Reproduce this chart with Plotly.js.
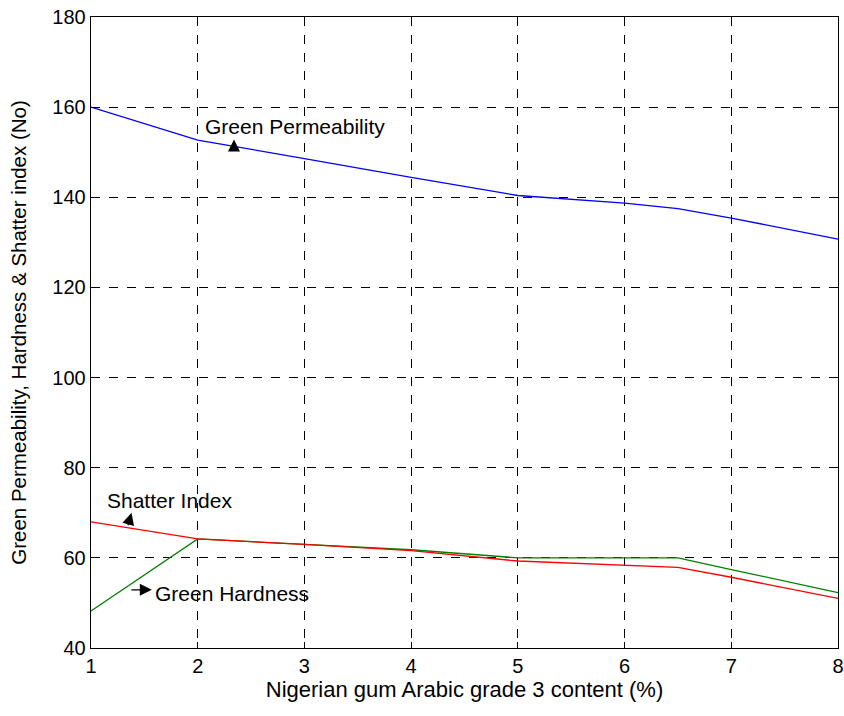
<!DOCTYPE html>
<html>
<head>
<meta charset="utf-8">
<script src="https://cdn.plot.ly/plotly-3.0.1.min.js"></script>
<style>body{margin:0;background:#fff}#chart{width:844px;height:716px}</style>
</head>
<body>
<div id="chart"></div>
<script>
// Data
const xContent = [1, 2, 3, 4, 5, 6, 6.5, 7, 8];
const greenPermeability = [160, 152.7, 148.6, 144.4, 140.4, 138.7, 137.5, 135.4, 130.7];
const shatterIndex = [68, 64.2, 63.0, 61.6, 59.3, 58.4, 57.9, 55.7, 51.0];
const greenHardness = [48.2, 64.2, 63.0, 61.8, 60.0, 60.0, 60.0, 57.4, 52.3];
const xTicks = [1, 2, 3, 4, 5, 6, 7, 8];
const yTicks = [40, 60, 80, 100, 120, 140, 160, 180];

const font = "Liberation Sans, Arial, sans-serif";
const traces = [
  {x: xContent, y: greenPermeability, mode: 'lines', line: {color: '#0000ff', width: 1.3}, name: 'Green Permeability'},
  {x: xContent, y: greenHardness, mode: 'lines', line: {color: '#008000', width: 1.3}, name: 'Green Hardness'},
  {x: xContent, y: shatterIndex, mode: 'lines', line: {color: '#ff0000', width: 1.3}, name: 'Shatter Index'}
];

const ann = (x, y, text) => ({x, y, text, showarrow: false, xanchor: 'left', yanchor: 'middle', font: {family: font, size: 21, color: '#000'}});
const arr = (x, y, ax, ay) => ({x, y, ax, ay, text: '', showarrow: true, arrowhead: 2, arrowsize: 2, arrowwidth: 1.2, arrowcolor: '#000'});

const layout = {
  width: 844, height: 716,
  margin: {l: 91, r: 6, t: 17, b: 68},
  paper_bgcolor: '#fff', plot_bgcolor: '#fff',
  showlegend: false,
  font: {family: font, size: 20, color: '#000'},
  xaxis: {
    range: [1, 8], tickvals: xTicks, ticktext: xTicks.map(String),
    showline: true, linecolor: '#000', linewidth: 1.3, mirror: 'ticks',
    ticks: 'inside', ticklen: 6, tickcolor: '#000',
    showgrid: true, gridcolor: '#000', griddash: 'dash', gridwidth: 1,
    zeroline: false, automargin: false,
    title: {text: 'Nigerian gum Arabic grade 3 content (%)', font: {family: font, size: 22}, standoff: 4},
    tickfont: {family: font, size: 20}
  },
  yaxis: {
    range: [40, 180], tickvals: yTicks, ticktext: yTicks.map(String),
    showline: true, linecolor: '#000', linewidth: 1.3, mirror: 'ticks',
    ticks: 'inside', ticklen: 6, tickcolor: '#000',
    showgrid: true, gridcolor: '#000', griddash: 'dash', gridwidth: 1,
    zeroline: false, automargin: false,
    title: {text: 'Green Permeability, Hardness & Shatter index (No)', font: {family: font, size: 20.5}, standoff: 20},
    tickfont: {family: font, size: 20}
  },
  annotations: [
    ann(2.05, 155.8, 'Green Permeability'),
    ann(1.13, 72.8, 'Shatter Index'),
    ann(1.58, 52.2, 'Green Hardness'),
    arr(2.34, 152.8, 0, 9),
    arr(1.38, 70.0, -4, 14),
    arr(1.57, 52.9, -22, 0)
  ]
};

Plotly.newPlot('chart', traces, layout, {displayModeBar: false, staticPlot: true});
</script>
</body>
</html>
